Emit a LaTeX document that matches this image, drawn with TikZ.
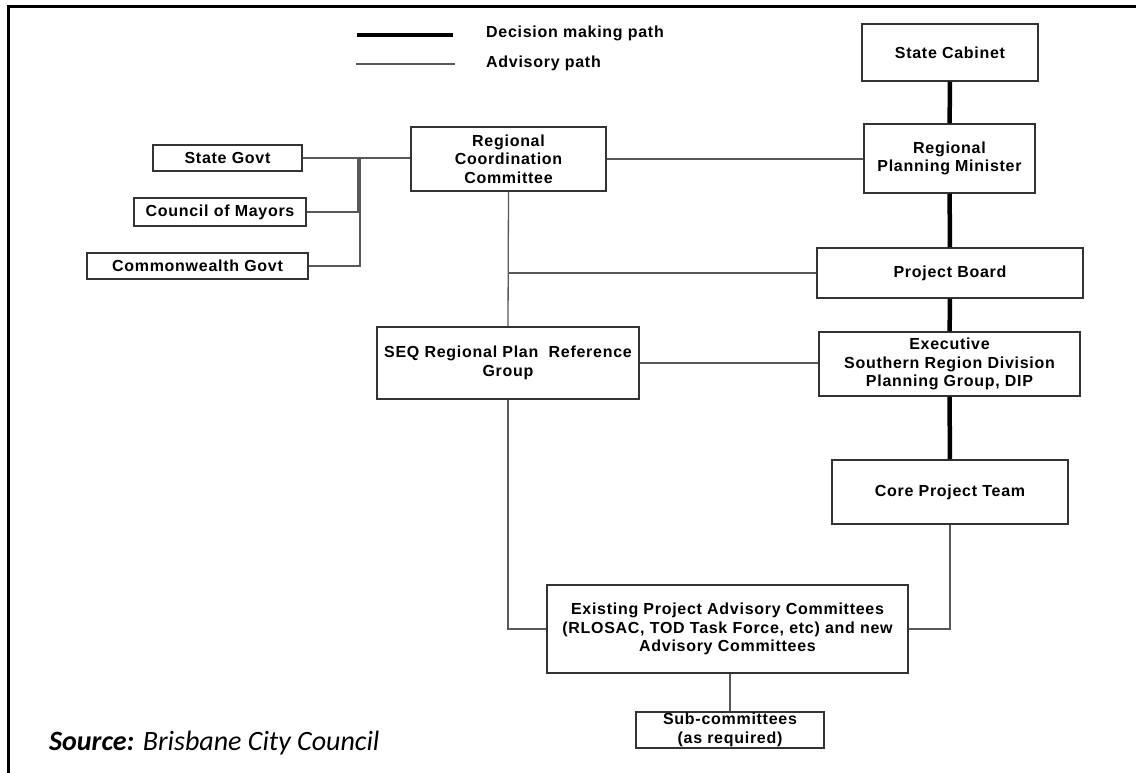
\documentclass[tikz,border=0pt]{standalone}
\usepackage{fontspec}
\newfontfamily\boxfont[LetterSpace=4.5]{Liberation Sans}
\newfontfamily\srcfont{Carlito}

\begin{document}
\begin{tikzpicture}[x=1pt, y=-1pt,
    box/.style={draw=black!80, line width=1.5pt, inner sep=0pt, align=center,
        font=\boxfont\bfseries\fontsize{16}{18.5}\selectfont},
    decision/.style={line width=4.5pt},
    advisory/.style={draw=black!65, line width=1.3pt}]
        \useasboundingbox (0,0) rectangle (1136,773);
        \draw [line width=3pt] (1136,7) -| (8,773);

        % legend
        \coordinate (decA) at (357,35);
        \coordinate (decB) at (453,35);
        \coordinate (advA) at (356,64);
        \coordinate (advB) at (455,64);
        \draw [decision] (decA) -- (decB);
        \draw [advisory] (advA) -- (advB);
        \node [anchor=west, inner sep=0pt, font=\boxfont\bfseries\fontsize{16}{18.5}\selectfont]
            (declabel) at (486,33) {Decision making path};
        \node [anchor=west, inner sep=0pt, font=\boxfont\bfseries\fontsize{16}{18.5}\selectfont]
            (advlabel) at (486,63) {Advisory path};

        % boxes
        \node [box, minimum width=176pt, minimum height=57pt] (cabinet) at (950,52.5) {State Cabinet};
        \node [box, minimum width=171pt, minimum height=69pt] (minister) at (949.5,158.5) {Regional\\Planning Minister};
        \node [box, minimum width=195pt, minimum height=64pt] (rcc) at (508.5,159) {Regional\\Coordination\\Committee};
        \node [box, minimum width=149pt, minimum height=26pt] (stategovt) at (227.5,158) {State Govt};
        \node [box, minimum width=172pt, minimum height=28pt] (mayors) at (220,212) {Council of Mayors};
        \node [box, minimum width=221pt, minimum height=26pt] (cwgovt) at (197.5,266) {Commonwealth Govt};
        \node [box, minimum width=266pt, minimum height=50pt] (board) at (950,273) {Project Board};
        \node [box, minimum width=262pt, minimum height=72pt] (seq) at (508,363) {SEQ Regional Plan\ \ Reference\\Group};
        \node [box, minimum width=261pt, minimum height=64pt] (exec) at (949.5,364) {Executive\\Southern Region Division\\Planning Group, DIP};
        \node [box, minimum width=236pt, minimum height=64pt] (core) at (950,492) {Core Project Team};
        \node [box, minimum width=361pt, minimum height=88pt] (existing) at (727.5,629) {Existing Project Advisory Committees\\(RLOSAC, TOD Task Force, etc) and new\\Advisory Committees};
        \node [box, minimum width=188pt, minimum height=36pt] (sub) at (730,730) {Sub-committees\\(as required)};

        \node [anchor=west, inner sep=0pt, font=\srcfont\fontsize{28}{30}\selectfont]
            (source) at (49,743) {\textbf{\textit{Source:}} \textit{Brisbane City Council}};

        % decision making path
        \draw [decision] (cabinet) -- (minister);
        \draw [decision] (minister) -- (board);
        \draw [decision] (board) -- (exec);
        \draw [decision] (exec) -- (core);

        % advisory paths
        \coordinate (joinA) at (358,159);
        \coordinate (joinB) at (360,159);
        \draw [advisory] (stategovt.east) -- (stategovt.east -| rcc.west);
        \draw [advisory] (mayors.east) -| (joinA);
        \draw [advisory] (cwgovt.east) -| (joinB);
        \draw [advisory] (rcc.east) -- (rcc.east -| minister.west);
        \draw [advisory] (rcc.south) -- (seq.north);
        \draw [advisory] (rcc.south |- board.west) -- (board.west);
        \draw [advisory] (seq.east) -- (seq.east -| exec.west);
        \draw [advisory] (seq.south) |- (existing.west);
        \draw [advisory] (core.south) |- (existing.east);
        \draw [advisory] (existing.south -| sub.north) -- (sub.north);
    \end{tikzpicture}
\end{document}
